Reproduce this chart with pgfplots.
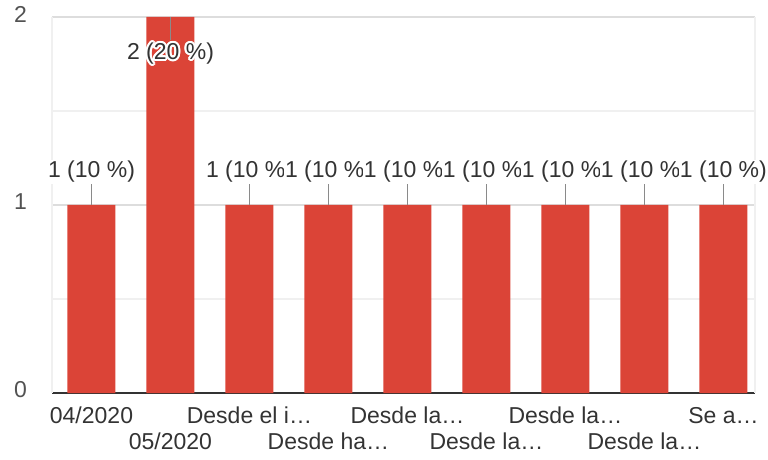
\documentclass[border=0pt]{standalone}
\usepackage{fontspec}
\setmainfont{Liberation Sans}
\usepackage{pgfplots}
\pgfplotsset{compat=1.18}
\usepackage{contour}
\contourlength{1pt}
\definecolor{barred}{HTML}{DB4437}
\definecolor{txt}{HTML}{333333}
\definecolor{leader}{HTML}{8A8A8A}
\definecolor{gridc}{HTML}{DDDDDD}
\definecolor{faint}{HTML}{F0F0F0}
\newcommand{\lblfont}{\fontsize{11.5}{13}\selectfont}
\begin{document}
\begin{tikzpicture}
\begin{axis}[
 scale only axis, width=351.5pt, height=188pt,
 xmin=-0.5, xmax=8.4, ymin=0, ymax=2,
 separate axis lines,
 axis x line*=bottom, axis y line=box,
 x axis line style={draw=txt, line width=0.8pt, -},
 y axis line style={draw=faint, line width=0.6pt, -},
 ytick={0,1,2}, minor ytick={0.5,1.5},
 ymajorgrids, yminorgrids,
 major grid style={gridc, line width=0.6pt},
 minor grid style={faint, line width=0.6pt},
 major tick length=0pt, minor tick length=0pt,
 /pgf/number format/assume math mode=true,
 xtick={0,2,4,6,8},
 xticklabels={04/2020, Desde el i…, Desde la…, Desde la…, Se a…},
 extra x ticks={1,3,5,7},
 extra x tick labels={05/2020, Desde ha…, Desde la…, Desde la…},
 extra x tick style={xticklabel style={yshift=-13pt}},
 xticklabel style={anchor=base, yshift=-15pt, font=\lblfont, text=txt},
 yticklabel style={font=\lblfont, text=txt!85, xshift=-9pt, yshift=1.5pt},
 clip=false,
]
\addplot[ybar, bar width=24pt, fill=barred, draw=none] coordinates {
 (0,1) (1,2) (2,1) (3,1) (4,1) (5,1) (6,1) (7,1) (8,1)
};
% leader lines
\addplot[draw=none, mark=none,
 error bars/.cd, y dir=plus, y explicit, error mark=none,
 error bar style={draw=leader, line width=0.7pt}]
 coordinates {
 (0,1) +- (0,0.11) (2,1) +- (0,0.11) (3,1) +- (0,0.11) (4,1) +- (0,0.11)
 (5,1) +- (0,0.11) (6,1) +- (0,0.11) (7,1) +- (0,0.11) (8,1) +- (0,0.11)
 };
\addplot[draw=none, mark=none,
 error bars/.cd, y dir=minus, y explicit, error mark=none,
 error bar style={draw=leader, line width=0.7pt}]
 coordinates {(1,2) +- (0,0.125)};
% data labels
\addplot[draw=none, mark=none, nodes near coords={1 (10 \%)},
 nodes near coords style={anchor=center, font=\lblfont, text=txt, fill=white, inner sep=0.6pt}]
 coordinates {(0,1.176) (2,1.176) (3,1.176) (4,1.176) (5,1.176) (6,1.176) (7,1.176) (8,1.176)};
\addplot[draw=none, mark=none, nodes near coords={\contour{white}{2 (20 \%)}},
 nodes near coords style={anchor=center, font=\lblfont, text=txt, inner sep=0pt}]
 coordinates {(1,1.80)};
\end{axis}
\pgfresetboundingbox
\useasboundingbox ([xshift=-26pt,yshift=-33pt]current axis.south west) rectangle ([xshift=6.5pt,yshift=8.5pt]current axis.north east);
\end{tikzpicture}
\end{document}
